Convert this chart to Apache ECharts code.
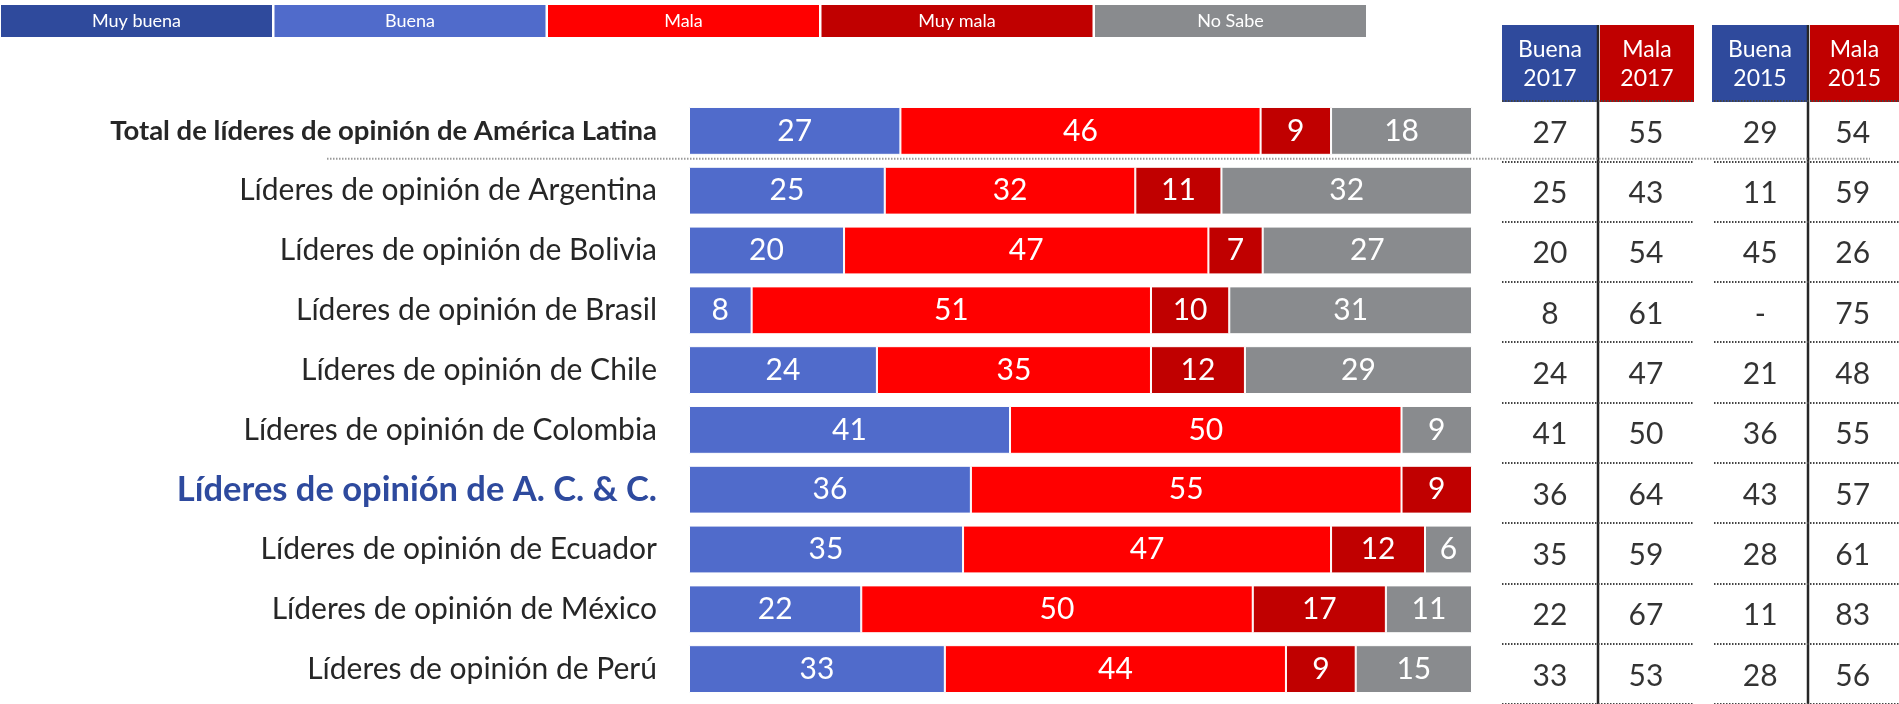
<!DOCTYPE html>
<html><head><meta charset="utf-8">
<script src="https://cdn.jsdelivr.net/npm/echarts@6/dist/echarts.min.js"></script>
<style>html,body{margin:0;padding:0;background:#fff}#c{width:1899px;height:704px}</style>
</head><body><div id="c"></div>
<script>
const rows = ['Total de líderes de opinión de América Latina','Líderes de opinión de Argentina','Líderes de opinión de Bolivia','Líderes de opinión de Brasil','Líderes de opinión de Chile','Líderes de opinión de Colombia','Líderes de opinión de A. C. & C.','Líderes de opinión de Ecuador','Líderes de opinión de México','Líderes de opinión de Perú'];
const seriesNames = ['Muy buena','Buena','Mala','Muy mala','No Sabe'];
const muyBuena = [0,0,0,0,0,0,0,0,0,0];
const buena    = [27,25,20,8,24,41,36,35,22,33];
const mala     = [46,32,47,51,35,50,55,47,50,44];
const muyMala  = [9,11,7,10,12,0,9,12,17,9];
const noSabe   = [18,32,27,31,29,9,0,6,11,15];
const tableCols = ['Buena\n2017','Mala\n2017','Buena\n2015','Mala\n2015'];
const buena2017 = [27,25,20,8,24,41,36,35,22,33];
const mala2017  = [55,43,54,61,47,50,64,59,67,53];
const buena2015 = [29,11,45,null,21,36,43,28,11,28];
const mala2015  = [54,59,26,75,48,55,57,61,83,56];

const colors = ['#2F4A9C','#506BCB','#FF0000','#C00000','#898B8E'];
const headColors = ['#2F4A9C','#C00000','#2F4A9C','#C00000'];
const barSets = [muyBuena,buena,mala,muyMala,noSabe];
const totals = rows.map((_,i)=>barSets.reduce((s,a)=>s+a[i],0));
const tableSets = [buena2017,mala2017,buena2015,mala2015];

const chart = echarts.init(document.getElementById('c'));

const FONT = 'Lato';
const tableY = (idx)=>({
  type:'category', gridIndex:idx, inverse:true, data:rows,
  axisLine:{show:false}, axisTick:{show:false}, axisLabel:{show:false},
  splitLine:{show:true, interval:0, lineStyle:{color:'#444', width:2, type:[1.5,1.5]}}
});

const series = barSets.map((arr,k)=>({
  name: seriesNames[k], type:'bar', stack:'s', xAxisIndex:0, yAxisIndex:0,
  barCategoryGap:'20%', silent:true,
  itemStyle:{color:colors[k], borderColor:'#fff', borderWidth:1},
  label:{show:true, position:'inside', color:'#fff', fontFamily:FONT, fontSize:30,
    formatter:p=>arr[p.dataIndex]},
  data: arr.map((v,i)=> v ? v/totals[i]*100 : null)
}));
tableSets.forEach((arr,c)=>{
  const g = c<2 ? 1 : 2;
  series.push({
    type:'scatter', xAxisIndex:g, yAxisIndex:g, symbolSize:1, silent:true,
    itemStyle:{color:'rgba(0,0,0,0)'},
    label:{show:true, position:'inside', color:'#000', fontFamily:FONT, fontSize:30, offset:[0,2],
      formatter:p=>{const v=arr[p.dataIndex]; return v==null?'-':String(v);}},
    data: rows.map(r=>[tableCols[c], r])
  });
});

const graphics = [];
seriesNames.forEach((n,k)=>{
  graphics.push({id:'lg'+k, type:'rect', shape:{x:1+k*273.5, y:5, width:271, height:32},
    style:{fill:colors[k]},
    textContent:{style:{text:n, fill:'#fff', font:'18px '+FONT}}, textConfig:{position:'inside'}});
});
const headX = [[1502,96],[1600,94],[1712,96],[1810,89]];
tableCols.forEach((t,c)=>{
  const parts = t.split('\n');
  graphics.push({id:'hd'+c, type:'rect', shape:{x:headX[c][0], y:25, width:headX[c][1], height:77},
    style:{fill:headColors[c]}});
  parts.forEach((p,j)=>{
    graphics.push({id:'ht'+c+'_'+j, type:'text', z:20, x:headX[c][0]+headX[c][1]/2, y:50+j*29,
      style:{text:p, fill:'#fff', font:'23px '+FONT,
        align:'center', verticalAlign:'middle', textAlign:'center', textVerticalAlign:'middle'}});
  });
});
[1598,1808].forEach((x,i)=>{
  graphics.push({id:'vl'+i, type:'line', shape:{x1:x,y1:25,x2:x,y2:704},
    style:{stroke:'#262626', lineWidth:2.5}});
});

chart.setOption({
  animation:false,
  textStyle:{fontFamily:FONT},
  grid:[
    {left:689, right:427, top:101, height:598},
    {left:1502, width:192, top:101, height:605},
    {left:1714, width:188, top:101, height:605}
  ],
  xAxis:[
    {type:'value', gridIndex:0, min:0, max:100, show:false},
    {type:'category', gridIndex:1, data:tableCols.slice(0,2), show:false},
    {type:'category', gridIndex:2, data:tableCols.slice(2,4), show:false}
  ],
  yAxis:[
    {type:'category', gridIndex:0, inverse:true, data:rows,
     axisLine:{show:false}, axisTick:{show:false},
     axisLabel:{margin:32, fontFamily:FONT,
       formatter:(v,i)=> i===0?`{t|${v}}`: i===6?`{h|${v}}`:`{n|${v}}`,
       rich:{
         t:{fontFamily:FONT, fontSize:27.5, fontWeight:'bold', color:'#262626'},
         h:{fontFamily:FONT, fontSize:34.5, fontWeight:'bold', color:'#2E4A9E'},
         n:{fontFamily:FONT, fontSize:30, color:'#262626'}
       }}},
    tableY(1), tableY(2)
  ],
  graphic:{elements:graphics},
  series
});

const c0 = chart.convertToPixel({yAxisIndex:0}, rows[0]);
const c1 = chart.convertToPixel({yAxisIndex:0}, rows[1]);
const ySep = (c0+c1)/2 - 2;
chart.setOption({graphic:{elements:[
  {id:'sep', type:'line', shape:{x1:327,y1:ySep,x2:1870,y2:ySep},
   style:{stroke:'#999', lineWidth:2, lineDash:[1.5,1.5]}}
]}});
</script></body></html>
